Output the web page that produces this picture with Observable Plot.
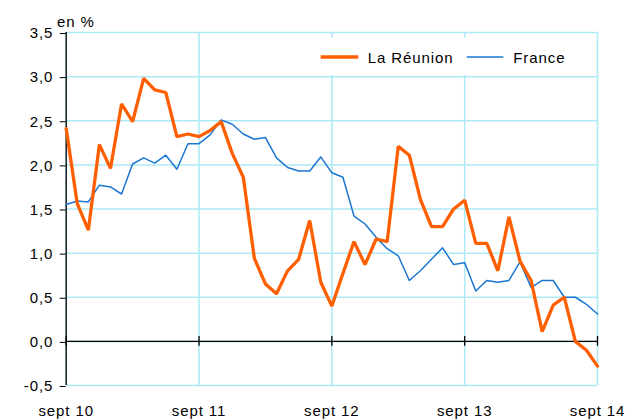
<!DOCTYPE html>
<html><head><meta charset="utf-8">
<script src="https://cdn.jsdelivr.net/npm/d3@7"></script>
<script src="https://cdn.jsdelivr.net/npm/@observablehq/plot@0.6"></script>
<style>body{margin:0;background:#fff}</style>
</head><body><div id="chart"></div>
<script>
const seriesNames = ["La Réunion", "France"];
const seriesColors = ["#ff5f00", "#1a76d2"];
const reunion = [2.41,1.56,1.26,2.23,1.96,2.69,2.49,2.98,2.85,2.82,2.32,2.35,2.32,2.39,2.49,2.13,1.86,0.94,0.65,0.54,0.80,0.93,1.37,0.67,0.40,0.77,1.13,0.87,1.16,1.13,2.21,2.11,1.61,1.30,1.30,1.50,1.60,1.11,1.11,0.80,1.41,0.91,0.69,0.11,0.41,0.50,0.00,-0.10,-0.28];
const france = [1.55,1.59,1.58,1.77,1.75,1.67,2.01,2.08,2.02,2.11,1.95,2.24,2.24,2.34,2.51,2.46,2.35,2.29,2.31,2.08,1.97,1.93,1.93,2.09,1.91,1.86,1.42,1.33,1.18,1.05,0.97,0.69,0.80,0.93,1.06,0.87,0.89,0.57,0.69,0.67,0.69,0.90,0.61,0.69,0.69,0.50,0.50,0.42,0.31];
const tickMonths = [0, 12, 24, 36, 48];
const tickLabels = ["sept 10", "sept 11", "sept 12", "sept 13", "sept 14"];
const yTicks = [-0.5, 0, 0.5, 1, 1.5, 2, 2.5, 3, 3.5];
const yUnit = "en %";

const rowsR = reunion.map((v, i) => ({m: i, v, s: seriesNames[0]}));
const rowsF = france.map((v, i) => ({m: i, v, s: seriesNames[1]}));
const grid = "#aee9f6";

const plot = Plot.plot({
  width: 627, height: 419,
  marginLeft: 65.7, marginRight: 30, marginTop: 32, marginBottom: 34,
  style: {fontFamily: "'Liberation Sans', Arial, sans-serif", fontSize: "15px", letterSpacing: "0.9px", color: "#000", background: "#fff"},
  x: {domain: [0, 48]},
  y: {domain: [-0.5, 3.5]},
  marks: [
    Plot.ruleY(yTicks, {stroke: grid, strokeWidth: 1.5}),
    Plot.ruleX(tickMonths, {stroke: grid, strokeWidth: 1.6}),
    Plot.ruleY([0], {stroke: "#000", strokeWidth: 1.3}),
    Plot.ruleX(tickMonths, {x: d => d, y1: -0.055, y2: 0.055, stroke: "#000", strokeWidth: 1.3}),
    Plot.ruleX([0], {stroke: "#000", strokeWidth: 1.3}),
    Plot.axisY({ticks: yTicks, tickFormat: d => d.toFixed(1).replace(".", ","), tickSize: 6, tickPadding: 7, dy: 1, label: null, stroke: "#000"}),
    Plot.axisX({ticks: tickMonths, tickFormat: d => tickLabels[tickMonths.indexOf(d)], tickSize: 0, tickPadding: 20, label: null}),
    Plot.line(rowsF, {x: "m", y: "v", stroke: seriesColors[1], strokeWidth: 1.5}),
    Plot.line(rowsR, {x: "m", y: "v", stroke: seriesColors[0], strokeWidth: 3.3, strokeLinejoin: "miter"})
  ]
});

const svg = d3.select(plot);
svg.append("text").attr("x", 57).attr("y", 27).attr("text-anchor", "start").attr("fill", "#000").text(yUnit);
const lg = svg.append("g").attr("text-anchor", "start");
lg.append("rect").attr("x", 305).attr("y", 37.5).attr("width", 290).attr("height", 37.5).attr("fill", "#fff");
const entries = [{x1: 320.7, x2: 358.3, tx: 367.7, w: 3.3}, {x1: 466.7, x2: 503.3, tx: 513.3, w: 1.5}];
entries.forEach((e, i) => {
  lg.append("line").attr("x1", e.x1).attr("x2", e.x2).attr("y1", 57).attr("y2", 57)
    .attr("stroke", seriesColors[i]).attr("stroke-width", e.w);
  lg.append("text").attr("x", e.tx).attr("y", 62.5).attr("fill", "#000").text(seriesNames[i]);
});
document.getElementById("chart").appendChild(plot);
</script>
</body></html>
